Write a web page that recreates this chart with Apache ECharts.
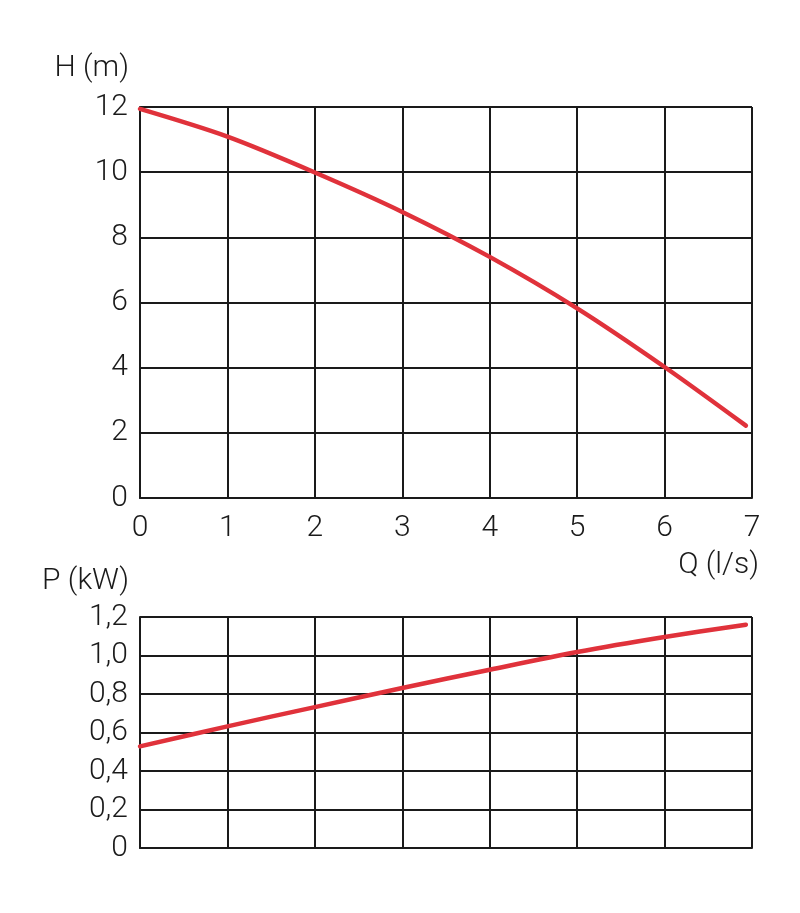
<!DOCTYPE html>
<html>
<head>
<meta charset="utf-8">
<script src="https://cdn.jsdelivr.net/npm/echarts@6/dist/echarts.min.js"></script>
<style>
  html, body { margin: 0; padding: 0; background: #fff; }
  #chart { width: 800px; height: 913px; }
</style>
</head>
<body>
<div id="chart"></div>
<script>
// Flow Q (l/s)
const qValues = [0, 1, 2, 3, 4, 5, 6, 6.93];
// Head H (m)
const hValues = [11.94, 11.09, 9.99, 8.78, 7.40, 5.82, 4.02, 2.22];
// Power input P (kW)
const pQValues = [0, 1, 2, 3, 4, 5, 6, 6.93];
const pValues = [0.528, 0.632, 0.732, 0.831, 0.926, 1.018, 1.096, 1.160];

const qTicks = { min: 0, max: 7, interval: 1 };
const hTicks = { min: 0, max: 12, interval: 2 };
const pTicks = { min: 0, max: 1.2, interval: 0.2 };

const FONT = 'Roboto';
const RED = '#e0323b';
const INK = '#1a1a1a';
const FS = 30;

const gridLine = { show: true, lineStyle: { color: INK, width: 2 } };
const axisLine = { show: true, lineStyle: { color: INK, width: 2 } };
const labelStyle = { color: INK, fontFamily: FONT, fontWeight: 300, fontSize: FS };

const chart = echarts.init(document.getElementById('chart'), null, { renderer: 'canvas' });
chart.setOption({
  animation: false,
  backgroundColor: '#ffffff',
  grid: [
    { left: 140, top: 107, width: 612, height: 391 },
    { left: 140, top: 617, width: 612, height: 231 }
  ],
  xAxis: [
    {
      gridIndex: 0, type: 'value', min: qTicks.min, max: qTicks.max, interval: qTicks.interval,
      axisLine: axisLine, axisTick: { show: false }, splitLine: gridLine,
      axisLabel: Object.assign({ margin: 15 }, labelStyle)
    },
    {
      gridIndex: 1, type: 'value', min: qTicks.min, max: qTicks.max, interval: qTicks.interval,
      axisLine: axisLine, axisTick: { show: false }, splitLine: gridLine,
      axisLabel: { show: false }
    }
  ],
  yAxis: [
    {
      gridIndex: 0, type: 'value', min: hTicks.min, max: hTicks.max, interval: hTicks.interval,
      axisLine: axisLine, axisTick: { show: false }, splitLine: gridLine,
      axisLabel: Object.assign({ margin: 12 }, labelStyle)
    },
    {
      gridIndex: 1, type: 'value', min: pTicks.min, max: pTicks.max, interval: pTicks.interval,
      axisLine: axisLine, axisTick: { show: false }, splitLine: gridLine,
      axisLabel: Object.assign({
        margin: 12,
        formatter: v => (Math.abs(v) < 1e-9 ? '0' : v.toFixed(1).replace('.', ','))
      }, labelStyle)
    }
  ],
  graphic: [
    { type: 'text', right: 800 - 129, top: 53, style: { text: 'H (m)', fill: INK, font: '300 ' + FS + 'px ' + FONT } },
    { type: 'text', right: 800 - 759, top: 550, style: { text: 'Q (l/s)', fill: INK, font: '300 ' + FS + 'px ' + FONT } },
    { type: 'text', right: 800 - 129, top: 566, style: { text: 'P (kW)', fill: INK, font: '300 ' + FS + 'px ' + FONT } }
  ],
  series: [
    {
      type: 'line', xAxisIndex: 0, yAxisIndex: 0, smooth: 0.3, showSymbol: false,
      data: qValues.map((q, i) => [q, hValues[i]]),
      lineStyle: { color: RED, width: 4.5, cap: 'round' }, z: 5
    },
    {
      type: 'line', xAxisIndex: 1, yAxisIndex: 1, smooth: 0.3, showSymbol: false,
      data: pQValues.map((q, i) => [q, pValues[i]]),
      lineStyle: { color: RED, width: 4.5, cap: 'round' }, z: 5
    }
  ]
});
</script>
</body>
</html>
